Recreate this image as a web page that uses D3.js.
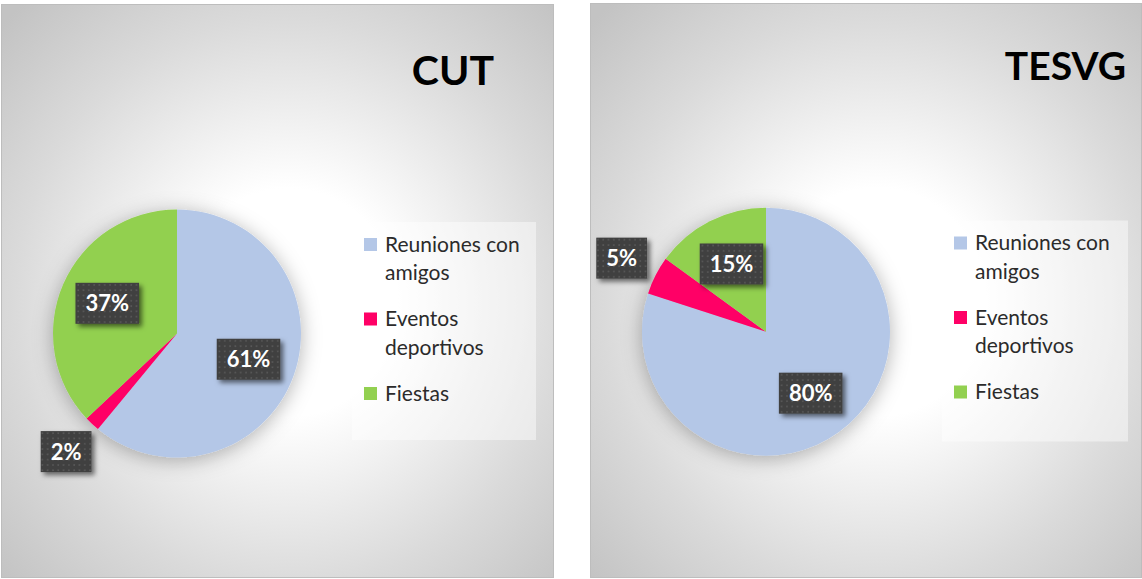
<!DOCTYPE html>
<meta charset="utf-8">
<head>
<style>
  body { margin: 0; background: #fff; }
  svg { display: block; }
  .title { font-family: Lato, "Noto Sans", sans-serif; font-weight: bold; fill: #000; }
  .legend text { font-family: Lato, "Noto Sans", sans-serif; font-size: 21px; fill: #2b2b2b; }
  .lbl text { font-family: Lato, "Noto Sans", sans-serif; font-weight: bold; font-size: 22px; fill: #fff; }
</style>
<title>CUT / TESVG</title>
</head>
<svg width="1142" height="579"></svg>
<script src="https://cdn.jsdelivr.net/npm/d3@7"></script>
<script>

// data
var categories = ["Reuniones con amigos", "Eventos deportivos", "Fiestas"];
var legendLines = [["Reuniones con", "amigos"], ["Eventos", "deportivos"], ["Fiestas"]];
var colors = ["#b4c7e7", "#ff0066", "#92d050"];
var cutValues = [61, 2, 37];
var tesvgValues = [80, 5, 15];
var titles = ["CUT", "TESVG"];

// layout for the two panels
var panels = [
  { title: titles[0], values: cutValues, x: 1.5, y: 4.5, w: 552, h: 573,
    cx: 177, cy: 333.5, titleX: 494, titleY: 85, titleSize: 41,
    legX: 352, legY: 222, legW: 184, legH: 218 },
  { title: titles[1], values: tesvgValues, x: 590.5, y: 3.5, w: 551, h: 574,
    cx: 766, cy: 331.7, titleX: 1126, titleY: 80, titleSize: 39,
    legX: 942, legY: 220.5, legW: 186, legH: 221 }
];
var radius = 124;

var svg = d3.select("svg");
var defs = svg.append("defs");

var grad = defs.append("radialGradient").attr("id", "bg")
    .attr("cx", 0.52).attr("cy", 0.52).attr("r", 0.71);
grad.append("stop").attr("offset", 0).attr("stop-color", "#ffffff");
grad.append("stop").attr("offset", 0.28).attr("stop-color", "#ffffff");
grad.append("stop").attr("offset", 0.7).attr("stop-color", "#dadada");
grad.append("stop").attr("offset", 1).attr("stop-color", "#c3c3c3");

var pat = defs.append("pattern").attr("id", "dots")
    .attr("patternUnits", "userSpaceOnUse").attr("width", 5.3).attr("height", 5.3);
pat.append("rect").attr("width", 5.3).attr("height", 5.3).attr("fill", "#404040");
pat.append("rect").attr("x", 2).attr("y", 2).attr("width", 1.6).attr("height", 1.6).attr("fill", "#5a5a5a");

defs.append("filter").attr("id", "pieShadow")
    .attr("x", "-30%").attr("y", "-30%").attr("width", "160%").attr("height", "160%")
  .append("feDropShadow").attr("dx", 0).attr("dy", 3).attr("stdDeviation", 10)
    .attr("flood-color", "#000").attr("flood-opacity", 0.3);

defs.append("filter").attr("id", "boxShadow")
    .attr("x", "-30%").attr("y", "-30%").attr("width", "170%").attr("height", "170%")
  .append("feDropShadow").attr("dx", 3).attr("dy", 3).attr("stdDeviation", 2.5)
    .attr("flood-color", "#000").attr("flood-opacity", 0.55);

var pie = d3.pie().sort(null).value(function(d) { return d; });
var arc = d3.arc().innerRadius(0).outerRadius(radius);
var inLabel = d3.arc().innerRadius(76).outerRadius(76);
var outLabel = d3.arc().innerRadius(162).outerRadius(162);

panels.forEach(function(p) {
  var g = svg.append("g");

  g.append("rect")
    .attr("x", p.x).attr("y", p.y).attr("width", p.w).attr("height", p.h)
    .attr("fill", "url(#bg)").attr("stroke", "#bdbdbd").attr("stroke-width", 1);

  g.append("text").attr("class", "title")
    .attr("x", p.titleX).attr("y", p.titleY)
    .attr("text-anchor", "end")
    .attr("font-size", p.titleSize + "px")
    .text(p.title);

  var arcs = pie(p.values);

  var pg = g.append("g")
    .attr("transform", "translate(" + p.cx + "," + p.cy + ")");

  pg.append("g").attr("filter", "url(#pieShadow)")
    .selectAll("path")
    .data(arcs)
    .enter().append("path")
    .attr("d", arc)
    .attr("fill", function(d, i) { return colors[i]; });

  // data labels
  var lbl = pg.selectAll(".lbl")
    .data(arcs)
    .enter().append("g")
    .attr("class", "lbl")
    .attr("transform", function(d) {
      var c = (d.data < 10 ? outLabel : inLabel).centroid(d);
      return "translate(" + c[0] + "," + c[1] + ")";
    });

  lbl.append("rect").attr("filter", "url(#boxShadow)");
  lbl.append("text")
    .attr("text-anchor", "middle")
    .attr("y", 8)
    .text(function(d) { return d.data + "%"; });
  lbl.each(function() {
    var node = d3.select(this);
    var tw = node.select("text").node().getComputedTextLength();
    node.select("rect")
      .attr("x", -(tw + 20) / 2).attr("y", -20.5)
      .attr("width", tw + 20).attr("height", 41)
      .attr("fill", "url(#dots)");
  });

  // legend
  var leg = g.append("g").attr("class", "legend");
  leg.append("rect")
    .attr("x", p.legX).attr("y", p.legY).attr("width", p.legW).attr("height", p.legH)
    .attr("fill", "#ffffff").attr("fill-opacity", 0.45);

  var yy = p.legY + 29.5;
  categories.forEach(function(c, i) {
    leg.append("rect")
      .attr("x", p.legX + 12).attr("y", yy - 13.5)
      .attr("width", 13).attr("height", 13)
      .attr("fill", colors[i]);
    legendLines[i].forEach(function(line) {
      leg.append("text")
        .attr("x", p.legX + 33).attr("y", yy)
        .text(line);
      yy += 28.5;
    });
    yy += 17.5;
  });
});

</script>
